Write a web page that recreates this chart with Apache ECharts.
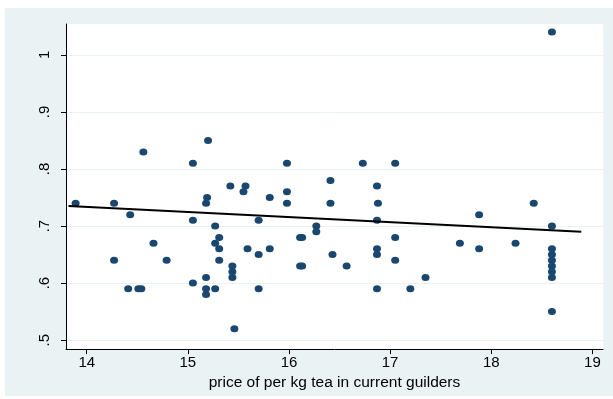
<!DOCTYPE html>
<html>
<head>
<meta charset="utf-8">
<script src="https://cdn.jsdelivr.net/npm/echarts@6/dist/echarts.min.js"></script>
<style>
html,body{margin:0;padding:0;background:#ffffff;}
#chart{position:absolute;left:5px;top:8px;width:608px;height:388px;}
</style>
</head>
<body>
<div id="chart"></div>
<script>
// price of per kg tea (x) and y-values
const priceX = [13.89,14.27,14.27,14.43,14.41,14.51,14.54,14.56,14.66,14.79,
  15.05,15.05,15.05,15.20,15.19,15.18,15.18,15.18,15.18,15.27,
  15.31,15.27,15.31,15.31,15.27,15.42,15.44,15.44,15.44,15.46,
  15.98,15.57,15.55,15.81,15.98,15.98,16.41,16.41,15.70,16.27,
  16.27,16.11,16.13,15.59,15.81,15.70,16.43,16.11,16.13,16.57,
  15.70,16.73,17.05,16.87,16.88,16.87,17.05,17.69,16.87,16.87,
  17.05,17.35,16.87,17.20,18.60,18.42,17.88,18.60,18.24,17.88,
  18.60,18.60,18.60,18.60,18.60,18.60,18.60];
const valueY = [0.74,0.74,0.64,0.72,0.59,0.59,0.59,0.83,0.67,0.64,
  0.81,0.71,0.60,0.85,0.75,0.74,0.61,0.59,0.58,0.70,
  0.68,0.67,0.66,0.64,0.59,0.77,0.63,0.62,0.61,0.52,
  0.81,0.77,0.76,0.75,0.76,0.74,0.78,0.74,0.71,0.70,
  0.69,0.68,0.68,0.66,0.66,0.65,0.65,0.63,0.63,0.63,
  0.59,0.81,0.81,0.77,0.74,0.71,0.68,0.67,0.66,0.65,
  0.64,0.61,0.59,0.59,1.04,0.74,0.72,0.70,0.67,0.66,
  0.66,0.65,0.64,0.63,0.62,0.61,0.55];
// fitted line end points
const fitX = [13.82, 18.89];
const fitY = [0.735, 0.690];
// tick labels
const xTicks = [14,15,16,17,18,19];
const yTicks = [0.5,0.6,0.7,0.8,0.9,1.0];

const scatterData = priceX.map((x,i)=>[x, valueY[i]]);
const fitData = fitX.map((x,i)=>[x, fitY[i]]);

const chart = echarts.init(document.getElementById('chart'));
const font = 'Liberation Sans, Arial, sans-serif';
chart.setOption({
  backgroundColor: '#eaf2f3',
  animation: false,
  grid: {left: 61, top: 16, width: 537, height: 326, show: true, backgroundColor: '#ffffff', borderWidth: 0},
  xAxis: {
    type: 'value', min: 13.795, max: 19.105,
    name: 'price of per kg tea in current guilders',
    nameLocation: 'middle', nameGap: 22,
    nameTextStyle: {fontFamily: font, fontSize: 15.5, color: '#000'},
    axisLine: {show: true, onZero: false, lineStyle: {color: '#000', width: 1}},
    axisTick: {show: true, length: 5, customValues: xTicks, lineStyle: {color: '#000'}},
    axisLabel: {customValues: xTicks, margin: 6, fontFamily: font, fontSize: 15, color: '#000'},
    splitLine: {show: false}
  },
  yAxis: {
    type: 'value', min: 0.4843, max: 1.0542,
    axisLine: {show: true, onZero: false, lineStyle: {color: '#000', width: 1}},
    axisTick: {show: true, length: 5, customValues: yTicks, lineStyle: {color: '#000'}},
    axisLabel: {customValues: yTicks, rotate: 90, margin: 14, fontFamily: font, fontSize: 15, color: '#000',
      formatter: v => { const s = String(Math.round(v*10)/10); return s.replace(/^0/, ''); }},
    splitLine: {show: true, lineStyle: {color: '#eaf2f3', width: 1}}
  },
  series: [
    {type: 'scatter', data: scatterData, symbol: 'circle', symbolSize: [8,7],
     itemStyle: {color: '#1a476f', opacity: 1}, z: 3},
    {type: 'line', data: fitData, symbol: 'none', showSymbol: false,
     lineStyle: {color: '#000', width: 2}, z: 4}
  ]
});
</script>
</body>
</html>
